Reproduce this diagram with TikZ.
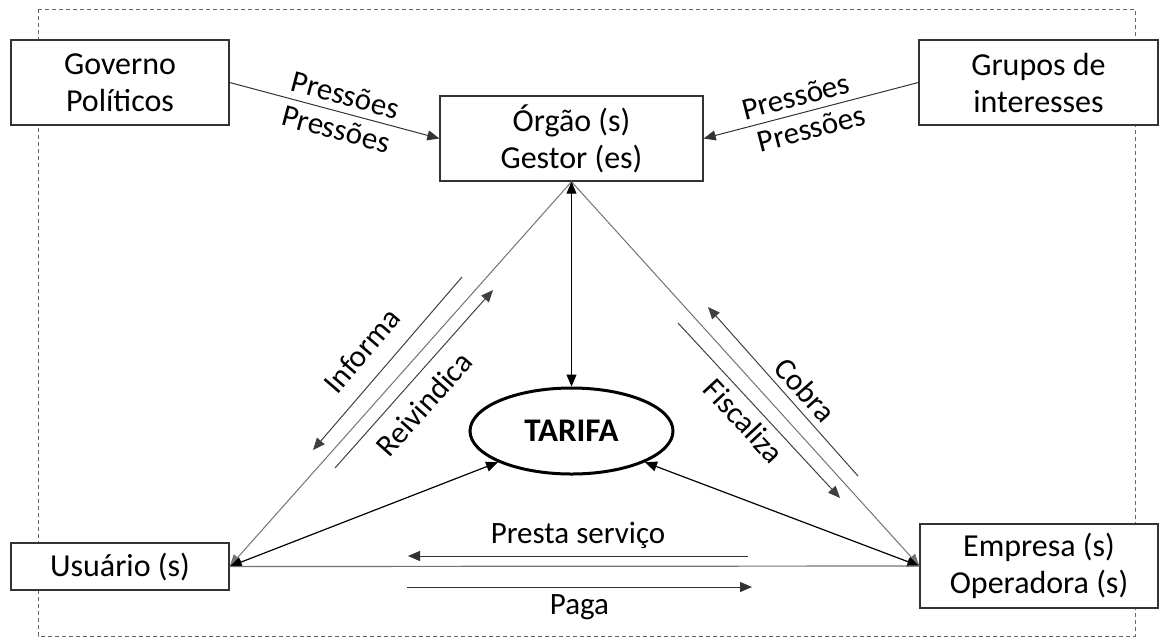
\documentclass[tikz,border=0pt]{standalone}
\usepackage{fontspec}
\setmainfont{Carlito}
\usetikzlibrary{arrows.meta,shapes.geometric}
\tikzset{
	caixa/.style={draw=black!80,line width=0.7pt,fill=white,align=center,inner sep=0pt,font=\fontsize{16}{18.5}\selectfont},
	rotulo/.style={text=black,font=\fontsize{15.5}{18}\selectfont,sloped},
	seta/.style={-{Triangle[length=6pt,width=5pt]}},
	setadupla/.style={{Triangle[length=6pt,width=5pt]}-{Triangle[length=6pt,width=5pt]}},
}

\begin{document}
\begin{tikzpicture}[x=0.5pt,y=-0.5pt]
	\useasboundingbox (0,0) rectangle (1160,639);
	\draw [black!60,line width=0.5pt,dash pattern=on 2pt off 1.5pt](38,9) rectangle (1135,636);

	\node (gov) at (120,82.5)[caixa,minimum width=109pt,minimum height=42.5pt]{Governo\\Políticos};
	\node (grupos) at (1038.5,82.5)[caixa,minimum width=119.5pt,minimum height=42.5pt]{Grupos de\\interesses};
	\node (orgao) at (571.5,138.5)[caixa,minimum width=131.5pt,minimum height=42.5pt]{Órgão (s)\\Gestor (es)};
	\node (usuario) at (120,566.5)[caixa,minimum width=109pt,minimum height=23.5pt]{Usuário (s)};
	\node (empresa) at (1039,566)[caixa,minimum width=119pt,minimum height=42pt]{Empresa (s)\\Operadora (s)};
	\node (tarifa) at (571.5,431)[ellipse,draw,line width=1.5pt,minimum width=101.5pt,minimum height=43pt,font=\fontsize{16.5}{18}\selectfont\bfseries]{TARIFA};

	\draw [seta,black!80,line width=0.5pt](gov.east) -- node[rotulo,above,pos=0.53]{Pressões} node[rotulo,below,pos=0.53]{Pressões} (orgao.west);
	\draw [seta,black!80,line width=0.5pt](grupos.west) -- node[rotulo,above,pos=0.55]{Pressões} node[rotulo,below,pos=0.52]{Pressões} (orgao.east);

	\draw [seta,black!55,line width=0.5pt](orgao.south) -- (usuario.east);
	\draw [seta,black!55,line width=0.5pt](orgao.south) -- (empresa.west);
	\draw [setadupla,line width=0.5pt](orgao.south) -- (tarifa.north);
	\draw [setadupla,line width=0.6pt](usuario.east) -- (tarifa.203);
	\draw [setadupla,line width=0.6pt](empresa.west) -- (tarifa.337);
	\draw [black!55,line width=0.6pt](usuario.east) -- (empresa.west);

	\coordinate (inf1) at (462,277);
	\coordinate (inf2) at (313,450);
	\draw [seta,black!75,line width=0.5pt](inf1) -- node[rotulo,above=5pt,pos=0.53]{Informa} (inf2);
	\coordinate (rei1) at (335,468);
	\coordinate (rei2) at (493,290);
	\draw [seta,black!75,line width=0.5pt](rei1) -- node[rotulo,below=3pt,pos=0.45]{Reivindica} (rei2);

	\coordinate (cob1) at (858,476);
	\coordinate (cob2) at (708,307);
	\draw [seta,black!75,line width=0.5pt](cob1) -- node[rotulo,above,pos=0.44]{Cobra} (cob2);
	\coordinate (fis1) at (678,323);
	\coordinate (fis2) at (840,498);
	\draw [seta,black!75,line width=0.5pt](fis1) -- node[rotulo,below,pos=0.49]{Fiscaliza} (fis2);

	\coordinate (ps1) at (748,556);
	\coordinate (ps2) at (408,556);
	\draw [seta,black!80,line width=0.5pt](ps1) -- node[rotulo,above,pos=0.5]{Presta serviço} (ps2);
	\coordinate (pg1) at (407,587);
	\coordinate (pg2) at (752,587);
	\draw [seta,black!80,line width=0.5pt](pg1) -- node[rotulo,below,pos=0.5]{Paga} (pg2);
\end{tikzpicture}
\end{document}
